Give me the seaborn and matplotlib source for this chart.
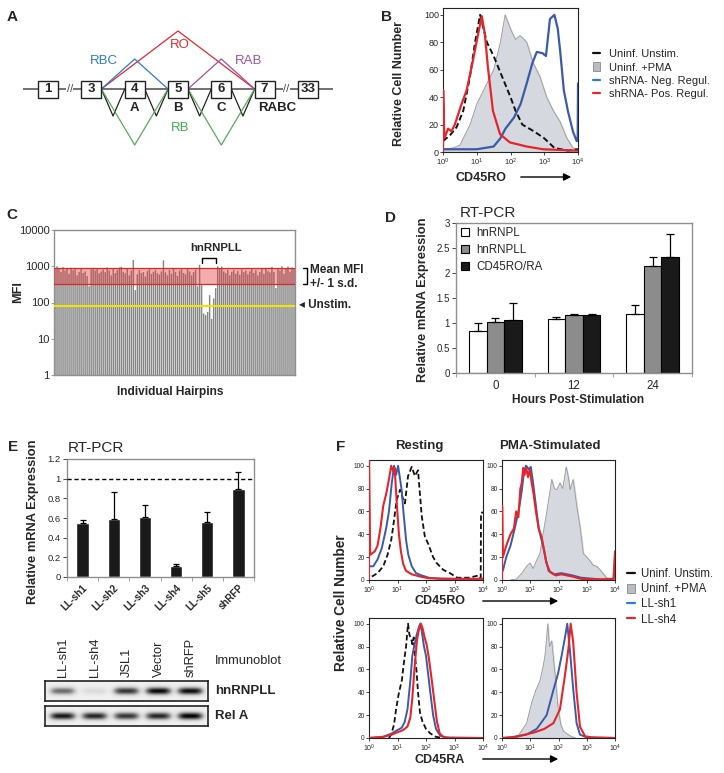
import numpy as np
import pandas as pd
import matplotlib
matplotlib.use("Agg")
import matplotlib.pyplot as plt
import seaborn as sns
from matplotlib.lines import Line2D
from matplotlib.patches import Patch, Rectangle
from matplotlib.ticker import FuncFormatter

W, H = 724, 773

# ---------------- data ----------------
# A: exon map of CD45 and the splice isoforms
exon_names = ["1", "3", "4", "5", "6", "7", "33"]
a_letters = ["A", "B", "C", "RABC"]
a_letter_pos = [2, 3, 4, 5.28]
a_junc_from = [1, 1, 3, 1, 2, 3, 4, 1, 3]
a_junc_to = [5, 3, 5, 2, 3, 4, 5, 3, 5]
a_junc_height = [58, 30, 30, -27, -27, -27, -27, -56, -56]
a_junc_color = ["#e8262d", "#2b7cc4", "#9b51a0", "#222222", "#222222",
                "#222222", "#222222", "#5aa85c", "#5aa85c"]
a_iso = ["RO", "RBC", "RAB", "RB"]
a_iso_x = [3.05, 1.29, 4.64, 3.05]
a_iso_y = [44, 28, 28, -39]
a_iso_color = ["#e8262d", "#2b7cc4", "#9b51a0", "#3fae49"]

# B: CD45RO histograms (x = log10 fluorescence, y = % of max)
b_pma_x = [0.0, 0.3, 0.5, 0.8, 1.0, 1.3, 1.5, 1.7, 1.84, 2.03, 2.15, 2.28, 2.48, 2.67, 2.87, 3.07, 3.27, 3.47, 3.67, 3.85, 4.0]
b_pma_y = [2, 3, 5, 20, 35, 50, 60, 80, 100, 88, 82, 85, 80, 65, 55, 40, 30, 22, 10, 3, 2]
b_unstim_x = [0.0, 0.2, 0.4, 0.6, 0.8, 0.95, 1.1, 1.3, 1.5, 1.75, 2.0, 2.15, 2.35, 2.7, 3.0, 3.3, 3.7, 4.0]
b_unstim_y = [8, 12, 18, 30, 55, 80, 100, 80, 70, 55, 40, 30, 20, 15, 10, 3, 1, 2]
b_neg_x = [0.0, 0.5, 1.0, 1.5, 1.7, 1.85, 2.1, 2.3, 2.48, 2.65, 2.78, 2.95, 3.05, 3.17, 3.3, 3.4, 3.47, 3.58, 3.7, 3.85, 3.96, 3.99, 4.0]
b_neg_y = [2, 2, 2, 4, 10, 17, 25, 35, 50, 65, 73, 72, 70, 97, 100, 90, 74, 45, 30, 15, 8, 8, 50]
b_pos_x = [0.0, 0.005, 0.04, 0.15, 0.25, 0.35, 0.55, 0.7, 0.89, 1.04, 1.15, 1.24, 1.33, 1.48, 1.69, 1.98, 2.48, 2.96, 3.95, 4.0]
b_pos_y = [0, 45, 10, 17, 15, 20, 35, 45, 67, 86, 99, 86, 62, 30, 13, 7, 4, 2, 1, 1]

# C: MFI of individual hairpins
c_mfi = [900, 1000, 850, 700, 950, 760, 880, 620, 910, 780, 830, 560, 700, 880, 650, 720, 540, 280, 820, 900,
         760, 880, 640, 720, 810, 690, 930, 770, 560, 880, 650, 780, 920, 970, 700, 640, 850, 560, 760, 1500,
         220, 600, 780, 650, 690, 520, 740, 860, 610, 700, 780, 640, 590, 720, 1450, 680, 560, 790, 620, 860,
         700, 540, 760, 830, 650, 600, 880, 720, 560, 690, 800, 280, 1100, 300, 50, 45, 55, 160, 35, 130,
         250, 1000, 850, 980, 720, 640, 800, 560, 700, 780, 620, 740, 580, 820, 690, 760, 600, 720, 880, 650,
         780, 560, 700, 840, 620, 900, 730, 680, 960, 700, 250, 840, 760, 1000, 620, 880, 980, 700, 920, 860]
c_band_lo, c_band_hi = 316, 875
c_unstim = 82

# D: RT-PCR time course
d_hours = ["0", "12", "24"]
d_genes = ["hnRNPL", "hnRNPLL", "CD45RO/RA"]
d_hnrnpl = [0.85, 1.08, 1.19]
d_hnrnpll = [1.02, 1.16, 2.15]
d_cd45 = [1.07, 1.16, 2.33]
d_hnrnpl_err = [0.15, 0.05, 0.18]
d_hnrnpll_err = [0.08, 0.02, 0.18]
d_cd45_err = [0.33, 0.02, 0.45]
d_colors = ["white", "#8c8c8c", "#1a1a1a"]

# E: knockdown efficiency
e_hairpins = ["LL-sh1", "LL-sh2", "LL-sh3", "LL-sh4", "LL-sh5", "shRFP"]
e_expr = [0.55, 0.59, 0.61, 0.11, 0.56, 0.89]
e_err = [0.03, 0.27, 0.12, 0.02, 0.10, 0.18]

# E: immunoblot band intensities
blot_lanes = ["LL-sh1", "LL-sh4", "JSL1", "Vector", "shRFP"]
blot_hnrnpll = [0.55, 0.12, 0.75, 0.9, 0.88]
blot_rela = [0.85, 0.8, 0.75, 0.8, 0.92]

# F: CD45RO / CD45RA histograms, resting and PMA-stimulated
f_ro_rest_unstim_x = [0.1, 0.3, 0.5, 0.65, 0.78, 0.85, 0.97, 1.09, 1.18, 1.26, 1.37, 1.5, 1.61, 1.72, 1.85, 1.96, 2.07, 2.25, 2.37, 2.6, 2.84, 3.1, 3.5, 3.85, 3.92, 3.93, 4.0]
f_ro_rest_unstim_y = [3, 6, 12, 22, 35, 47, 70, 79, 72, 67, 91, 99, 91, 96, 56, 38, 32, 20, 15, 9, 6, 2, 2, 4, 2, 59, 59]
f_ro_rest_sh1_x = [0.0, 0.05, 0.15, 0.3, 0.45, 0.6, 0.7, 0.8, 0.88, 0.95, 1.02, 1.08, 1.15, 1.2, 1.3, 1.38, 1.5, 1.65, 1.85, 2.1, 2.5, 3.0, 4.0]
f_ro_rest_sh1_y = [12, 12, 12, 18, 28, 45, 60, 85, 100, 92, 100, 90, 78, 62, 35, 22, 12, 6, 4, 2, 1, 1, 1]
f_ro_rest_sh4_x = [0.0, 0.0, 0.04, 0.2, 0.3, 0.4, 0.5, 0.6, 0.7, 0.78, 0.85, 0.9, 0.98, 1.05, 1.12, 1.2, 1.3, 1.5, 1.8, 2.1, 3.0, 4.0]
f_ro_rest_sh4_y = [0, 110, 22, 25, 30, 45, 65, 75, 88, 100, 95, 98, 65, 40, 25, 14, 8, 5, 3, 1.5, 1, 1]

f_ro_pma_fill_x = [0.3, 0.52, 0.7, 0.87, 0.99, 1.1, 1.2, 1.34, 1.45, 1.58, 1.68, 1.76, 1.85, 1.94, 2.05, 2.15, 2.27, 2.35, 2.41, 2.52, 2.65, 2.76, 2.88, 3.0, 3.11, 3.22, 3.35, 3.47, 3.6, 3.7, 3.88, 4.0]
f_ro_pma_fill_y = [0, 1, 6, 12, 15, 10, 16, 23, 40, 59, 75, 88, 80, 79, 85, 80, 99, 90, 79, 88, 64, 47, 23, 20, 17, 13, 12, 9, 5, 2, 1, 0]
f_ro_pma_sh1_x = [0.03, 0.15, 0.3, 0.45, 0.6, 0.7, 0.78, 0.85, 0.95, 1.02, 1.1, 1.2, 1.3, 1.45, 1.55, 1.65, 1.85, 2.1, 2.3, 2.5, 2.8, 3.5, 3.95, 4.0]
f_ro_pma_sh1_y = [8, 20, 30, 45, 62, 78, 95, 100, 97, 99, 85, 65, 45, 30, 18, 8, 5, 6, 5, 4, 2, 0.5, 1, 20]
f_ro_pma_sh4_x = [0.0, 0.005, 0.03, 0.15, 0.3, 0.42, 0.5, 0.58, 0.65, 0.7, 0.75, 0.8, 0.86, 0.92, 0.98, 1.05, 1.12, 1.2, 1.3, 1.4, 1.5, 1.57, 1.7, 1.9, 2.1, 2.3, 2.5, 2.8, 3.5, 3.95, 4.0]
f_ro_pma_sh4_y = [0, 65, 20, 30, 40, 45, 60, 55, 80, 85, 98, 92, 98, 90, 97, 85, 75, 60, 45, 38, 25, 15, 7, 4, 5, 4, 3, 1, 0.5, 1, 25]

f_ra_rest_unstim_x = [0.7, 0.78, 0.88, 0.95, 1.03, 1.1, 1.15, 1.22, 1.3, 1.37, 1.42, 1.47, 1.52, 1.57, 1.62, 1.67, 1.72, 1.79, 1.88, 2.0, 2.15, 2.35, 2.6]
f_ra_rest_unstim_y = [0, 3, 12, 25, 37, 45, 50, 65, 80, 100, 90, 88, 82, 88, 70, 58, 40, 22, 14, 8, 4, 1, 0]
f_ra_rest_sh1_x = [0.0, 0.5, 0.8, 1.0, 1.15, 1.25, 1.35, 1.45, 1.52, 1.6, 1.67, 1.75, 1.8, 1.86, 1.93, 2.0, 2.08, 2.15, 2.25, 2.35, 2.5, 2.7, 4.0]
f_ra_rest_sh1_y = [0, 1, 4, 7, 9, 14, 25, 50, 72, 82, 90, 97, 100, 92, 80, 72, 55, 40, 20, 8, 2, 0.5, 0]
f_ra_rest_sh4_x = [0.0, 0.5, 0.8, 1.0, 1.2, 1.35, 1.45, 1.52, 1.6, 1.68, 1.75, 1.82, 1.88, 1.95, 2.02, 2.1, 2.18, 2.28, 2.38, 2.48, 2.6, 2.8, 4.0]
f_ra_rest_sh4_y = [0, 1, 3, 5, 7, 10, 18, 35, 62, 85, 95, 100, 96, 88, 82, 70, 55, 35, 15, 4, 1, 0, 0]

f_ra_pma_fill_x = [0.52, 0.87, 1.05, 1.2, 1.34, 1.45, 1.52, 1.58, 1.62, 1.68, 1.76, 1.88, 1.99, 2.08, 2.17, 2.4, 2.6]
f_ra_pma_fill_y = [0, 13, 31, 42, 50, 62, 72, 88, 100, 80, 85, 55, 25, 12, 6, 2, 0]
f_ra_pma_sh1_x = [0.0, 0.28, 0.87, 1.23, 1.58, 1.82, 1.99, 2.11, 2.23, 2.31, 2.4, 2.52, 2.64, 2.76, 3.0, 4.0]
f_ra_pma_sh1_y = [0, 0.5, 3, 8, 20, 42, 57, 72, 88, 100, 78, 43, 13, 3, 0.5, 0]
f_ra_pma_sh4_x = [0.0, 0.5, 1.16, 1.5, 1.82, 2.05, 2.23, 2.35, 2.43, 2.52, 2.64, 2.76, 2.94, 3.2, 4.0]
f_ra_pma_sh4_y = [0, 1, 5, 8, 13, 25, 55, 78, 100, 84, 40, 10, 1.5, 0.5, 0]

BLUE = "#3b5ba8"
RED = "#e3262b"
BLACK = "#111111"
GRAY_FILL = "#d5d8de"
GRAY_EDGE = "#9a9a9a"
FRAME = "#8f8f8f"

# ---------------- style ----------------
sns.set_style("ticks")
plt.rcParams["font.family"] = ["Liberation Sans", "DejaVu Sans"]
plt.rcParams["mathtext.default"] = "regular"
plt.rcParams["axes.linewidth"] = 0.8

fig = plt.figure(figsize=(W / 100, H / 100), dpi=100)


def px_axes(left, top, right, bottom):
    return fig.add_axes([left / W, 1 - bottom / H, (right - left) / W, (bottom - top) / H])


def gfmt(v, _):
    return f"{v:g}"


# ---------------- A ----------------
axA = px_axes(23, 25, 333, 150)
axA.set_xlim(-0.58, 6.58)
axA.set_ylim(-61, 64)
axA.axis("off")
axA.axhline(0, color="#666666", lw=1.3, zorder=1)
half_w = 0.23
for a, b, h, c in zip(a_junc_from, a_junc_to, a_junc_height, a_junc_color):
    axA.plot([a + half_w, (a + b) / 2, b - half_w], [0, h, 0], color=c, lw=0.9, zorder=2)
for p, name in enumerate(exon_names):
    axA.add_patch(Rectangle((p - half_w, -8.5), 2 * half_w, 17, fc="white", ec="#222222", lw=1.0, zorder=3))
    axA.text(p, 0, name, ha="center", va="center", fontsize=9.5, fontweight="bold",
             color="#222222", zorder=4)
for brk in [0.5, 5.5]:
    axA.text(brk, 0, "//", ha="center", va="center", fontsize=8, color="#444444",
             bbox=dict(fc="white", ec="none", pad=0.3), zorder=3)
for s, x in zip(a_letters, a_letter_pos):
    axA.text(x, -19, s, ha="center", va="center", fontsize=9.5, fontweight="bold", color="#222222")
for s, x, y, c in zip(a_iso, a_iso_x, a_iso_y, a_iso_color):
    axA.text(x, y, s, ha="center", va="center", fontsize=9.5, color=c)


# ---------------- FACS helpers ----------------
def facs_axes(ax, yfs, xfs):
    ax.set_xlim(0, 4)
    ax.set_ylim(0, 105)
    ax.set_xticks(range(5))
    ax.set_xticklabels([rf"$10^{{{k}}}$" for k in range(5)])
    ax.set_yticks(range(0, 101, 20))
    ax.tick_params(axis="y", labelsize=yfs, length=2, width=0.6, pad=1)
    ax.tick_params(axis="x", labelsize=xfs, length=2, width=0.6, pad=1.5)
    for s in ax.spines.values():
        s.set_linewidth(0.8)
        s.set_color("#222222")
    ax.set_xlabel("")
    ax.set_ylabel("")


def fill_hist(ax, xs, ys):
    ax.fill_between(xs, ys, color=GRAY_FILL, zorder=1)
    sns.lineplot(x=xs, y=ys, ax=ax, color=GRAY_EDGE, lw=0.6, estimator=None, sort=False, zorder=1)


def line_hist(ax, xs, ys, color, dashed=False, lw=1.5):
    kw = dict(linestyle=(0, (3, 1.6))) if dashed else {}
    sns.lineplot(x=xs, y=ys, ax=ax, color=color, lw=lw, estimator=None, sort=False, zorder=3, **kw)


# ---------------- B ----------------
axB = px_axes(443, 8, 578, 152)
fill_hist(axB, b_pma_x, b_pma_y)
line_hist(axB, b_unstim_x, b_unstim_y, BLACK, dashed=True, lw=1.4)
line_hist(axB, b_neg_x, b_neg_y, BLUE, lw=1.6)
line_hist(axB, b_pos_x, b_pos_y, RED, lw=1.6)
facs_axes(axB, 6.5, 5.5)

fig.legend(handles=[Line2D([], [], color=BLACK, lw=1.6),
                    Patch(fc="#b9bcc2", ec="#888888", lw=0.6),
                    Line2D([], [], color="#2a7fd0", lw=1.6),
                    Line2D([], [], color=RED, lw=1.6)],
           labels=["Uninf. Unstim.", "Uninf. +PMA", "shRNA- Neg. Regul.", "shRNA- Pos. Regul."],
           loc="upper left", bbox_to_anchor=(593 / W, 1 - 49 / H), frameon=False, fontsize=8,
           handlelength=0.65, handleheight=0.8, handletextpad=0.8, labelspacing=0.3,
           borderpad=0, borderaxespad=0)

# ---------------- C ----------------
axC = px_axes(54, 230, 295, 375)
axC.set_yscale("log")
sns.barplot(x=np.arange(len(c_mfi)), y=c_mfi, color="#858585", saturation=1, width=0.72,
            linewidth=0, ax=axC)
for bar in axC.patches:
    bar.set_snap(False)
axC.set_xlim(-0.5, len(c_mfi) - 0.5)
axC.set_ylim(1, 10000)
axC.axhspan(c_band_lo, c_band_hi, fc="#e8393a", alpha=0.42, lw=0, zorder=3)
axC.axhline(c_band_lo, color="#d42a2a", lw=0.9, zorder=3)
axC.axhline(c_band_hi, color="#d42a2a", lw=0.9, zorder=3)
axC.axhline(c_unstim, color="#f2e400", lw=1.5, zorder=4)
axC.set_yticks([1, 10, 100, 1000, 10000])
axC.set_yticklabels(["1", "10", "100", "1000", "10000"])
axC.yaxis.set_minor_locator(matplotlib.ticker.NullLocator())
axC.set_xticks([])
axC.tick_params(axis="y", labelsize=8, length=2, width=0.6, color=FRAME, pad=1)
for s in axC.spines.values():
    s.set_color(FRAME)
    s.set_linewidth(1.0)
axC.set_xlabel("")
axC.set_ylabel("")

# ---------------- D ----------------
axD = px_axes(456, 223, 692, 373)
df_d = pd.DataFrame({
    "hours": d_hours * 3,
    "gene": [g for g in d_genes for _ in d_hours],
    "expr": d_hnrnpl + d_hnrnpll + d_cd45,
})
sns.barplot(data=df_d, x="hours", y="expr", hue="gene", order=d_hours, hue_order=d_genes,
            palette=d_colors, saturation=1, edgecolor="black", linewidth=0.8, width=0.67,
            errorbar=None, legend=False, ax=axD)
for cont, err in zip(axD.containers, [d_hnrnpl_err, d_hnrnpll_err, d_cd45_err]):
    xs = [b.get_x() + b.get_width() / 2 for b in cont]
    ys = [b.get_height() for b in cont]
    axD.errorbar(xs, ys, yerr=[np.zeros(len(err)), err], fmt="none", ecolor="black",
                 elinewidth=0.9, capsize=3.2, capthick=0.9, zorder=5)
axD.set_xlim(-0.5, 2.5)
axD.set_ylim(0, 3)
axD.set_yticks(np.arange(0, 3.01, 0.5))
axD.yaxis.set_major_formatter(FuncFormatter(gfmt))
axD.set_xticks(range(3))
axD.set_xticklabels(d_hours)
axD.set_xticks([-0.5, 0.5, 1.5, 2.5], minor=True)
axD.tick_params(axis="x", which="major", length=0, labelsize=8.3, pad=5)
axD.tick_params(axis="x", which="minor", length=3, width=0.6, color=FRAME)
axD.tick_params(axis="y", labelsize=7, length=3, width=0.6, pad=1.5)
for s in axD.spines.values():
    s.set_color(FRAME)
    s.set_linewidth(1.0)
axD.set_xlabel("")
axD.set_ylabel("")
axD.legend(handles=[Patch(fc=c, ec="black", lw=0.8) for c in d_colors], labels=d_genes,
           loc="upper left", bbox_to_anchor=(0.02, 0.975), frameon=False, fontsize=8.3,
           handlelength=0.75, handleheight=0.75, handletextpad=0.6, labelspacing=0.45,
           borderpad=0, borderaxespad=0)

# ---------------- E ----------------
axE = px_axes(67, 459, 254, 577)
sns.barplot(x=e_hairpins, y=e_expr, color="#1a1a1a", saturation=1, width=0.4,
            errorbar=None, ax=axE)
bars = axE.containers[0]
axE.errorbar([b.get_x() + b.get_width() / 2 for b in bars], [b.get_height() for b in bars],
             yerr=[np.zeros(len(e_err)), e_err], fmt="none", ecolor="black",
             elinewidth=0.9, capsize=2.5, capthick=0.9, zorder=5)
axE.axhline(1.0, color="black", lw=1.0, linestyle=(0, (3, 2)), zorder=4)
axE.set_xlim(-0.5, len(e_hairpins) - 0.5)
axE.set_ylim(0, 1.2)
axE.set_yticks(np.arange(0, 1.21, 0.2))
axE.yaxis.set_major_formatter(FuncFormatter(gfmt))
axE.set_xticks(range(len(e_hairpins)))
axE.set_xticklabels(e_hairpins, rotation=45, ha="right", rotation_mode="anchor",
                    fontsize=7, fontweight="bold")
axE.set_xticks(np.arange(-0.5, len(e_hairpins)), minor=True)
axE.tick_params(axis="x", which="major", length=0, pad=4)
axE.tick_params(axis="x", which="minor", length=3, width=0.6, color=FRAME)
axE.tick_params(axis="y", labelsize=6.8, length=3, width=0.6, pad=1.5)
for s in axE.spines.values():
    s.set_color(FRAME)
    s.set_linewidth(1.0)
axE.set_xlabel("")
axE.set_ylabel("")


# immunoblot strips
def blot(ax, intens):
    xs = np.linspace(-0.55, len(intens) - 0.45, 400)
    ys = np.linspace(-1, 1, 40)
    img = np.full((len(ys), len(xs)), 0.13)
    for i, a in enumerate(intens):
        img += a * np.outer(np.exp(-(ys / 0.38) ** 2), np.exp(-((xs - i) / 0.4) ** 4))
    ax.imshow(img, cmap="Greys", vmin=0, vmax=1.05, aspect="auto",
              extent=[xs[0], xs[-1], -1, 1], interpolation="bilinear")
    ax.set_xticks([])
    ax.set_yticks([])
    for s in ax.spines.values():
        s.set_color("#222222")
        s.set_linewidth(1.2)


blot(px_axes(45, 681, 208, 701), blot_hnrnpll)
blot(px_axes(45, 706, 208, 726), blot_rela)

# ---------------- F ----------------
axF1 = px_axes(369, 460, 483, 580)
axF2 = px_axes(502, 460, 615, 580)
axF3 = px_axes(369, 618, 483, 738)
axF4 = px_axes(502, 618, 615, 738)

line_hist(axF1, f_ro_rest_unstim_x, f_ro_rest_unstim_y, BLACK, dashed=True, lw=1.3)
line_hist(axF1, f_ro_rest_sh1_x, f_ro_rest_sh1_y, BLUE, lw=1.4)
line_hist(axF1, f_ro_rest_sh4_x, f_ro_rest_sh4_y, RED, lw=1.5)

fill_hist(axF2, f_ro_pma_fill_x, f_ro_pma_fill_y)
line_hist(axF2, f_ro_pma_sh1_x, f_ro_pma_sh1_y, BLUE, lw=1.4)
line_hist(axF2, f_ro_pma_sh4_x, f_ro_pma_sh4_y, RED, lw=1.5)

line_hist(axF3, f_ra_rest_unstim_x, f_ra_rest_unstim_y, BLACK, dashed=True, lw=1.3)
line_hist(axF3, f_ra_rest_sh1_x, f_ra_rest_sh1_y, BLUE, lw=1.4)
line_hist(axF3, f_ra_rest_sh4_x, f_ra_rest_sh4_y, RED, lw=1.5)

fill_hist(axF4, f_ra_pma_fill_x, f_ra_pma_fill_y)
line_hist(axF4, f_ra_pma_sh1_x, f_ra_pma_sh1_y, BLUE, lw=1.4)
line_hist(axF4, f_ra_pma_sh4_x, f_ra_pma_sh4_y, RED, lw=1.5)

for ax in [axF1, axF2, axF3, axF4]:
    facs_axes(ax, 4.8, 5)

fig.legend(handles=[Line2D([], [], color=BLACK, lw=1.6),
                    Patch(fc="#b9bcc2", ec="#888888", lw=0.6),
                    Line2D([], [], color="#2a7fd0", lw=1.6),
                    Line2D([], [], color=RED, lw=1.6)],
           labels=["Uninf. Unstim.", "Uninf. +PMA", "LL-sh1", "LL-sh4"],
           loc="upper left", bbox_to_anchor=(627 / W, 1 - 568 / H), frameon=False, fontsize=8.3,
           handlelength=0.7, handleheight=0.8, handletextpad=0.55, labelspacing=0.28,
           borderpad=0, borderaxespad=0)

# ---------------- free text / arrows (pixel overlay) ----------------
ov = fig.add_axes([0, 0, 1, 1])
ov.set_xlim(0, W)
ov.set_ylim(H, 0)
ov.axis("off")
ov.patch.set_visible(False)

for s, x, y in [("A", 12, 17), ("B", 387, 17), ("C", 12, 215), ("D", 391, 218), ("E", 13, 447), ("F", 341, 447)]:
    ov.text(x, y, s, ha="center", va="center", fontsize=11, fontweight="bold")

bold = dict(fontweight="bold", ha="center", va="center")
# B labels
ov.text(399, 84, "Relative Cell Number", rotation=90, fontsize=9, **bold)
ov.text(481, 178, "CD45RO", fontsize=9, **bold)
ov.annotate("", xy=(574, 177), xytext=(518, 177),
            arrowprops=dict(arrowstyle="-|>", color="black", lw=1.0, mutation_scale=11))
# C labels
ov.text(18, 292, "MFI", rotation=90, fontsize=9.2, **bold)
ov.text(170, 392, "Individual Hairpins", fontsize=8.6, **bold)
ov.text(216, 248, "hnRNPLL", fontsize=8.2, **bold)
ov.plot([202, 202, 216, 216], [263, 258, 258, 263], color="black", lw=1.0)
ov.plot([303, 307, 307, 303], [268, 268, 284, 284], color="black", lw=1.0)
ov.text(310, 270, "Mean MFI", fontsize=8.5, fontweight="bold", ha="left", va="center")
ov.text(310, 284, "+/- 1 s.d.", fontsize=8.5, fontweight="bold", ha="left", va="center")
ov.text(299, 305, "\u25c2 Unstim.", fontsize=8.5, fontweight="bold", ha="left", va="center")
# D labels
ov.text(460, 213, "RT-PCR", fontsize=11, ha="left", va="center")
ov.text(423, 300, "Relative mRNA Expression", rotation=90, fontsize=9.3, **bold)
ov.text(578, 400, "Hours Post-Stimulation", fontsize=8.6, **bold)
# E labels
ov.text(68, 448, "RT-PCR", fontsize=11, ha="left", va="center")
ov.text(33, 522, "Relative mRNA Expression", rotation=90, fontsize=9.3, **bold)
for i, lane in enumerate(blot_lanes):
    ov.text(45 + (i + 0.55) * 163 / 5.1, 677, lane, rotation=90, fontsize=9.3, ha="center", va="bottom")
ov.text(215, 661, "Immunoblot", fontsize=9.3, ha="left", va="center")
ov.text(215, 691, "hnRNPLL", fontsize=9.5, fontweight="bold", ha="left", va="center")
ov.text(215, 716, "Rel A", fontsize=9.5, fontweight="bold", ha="left", va="center")
# F labels
ov.text(419, 446, "Resting", fontsize=9.5, **bold)
ov.text(550, 446, "PMA-Stimulated", fontsize=9.5, **bold)
ov.text(341, 603, "Relative Cell Number", rotation=90, fontsize=9.8, **bold)
ov.text(440, 601, "CD45RO", fontsize=9, **bold)
ov.annotate("", xy=(561, 601), xytext=(480, 601),
            arrowprops=dict(arrowstyle="-|>", color="black", lw=1.0, mutation_scale=11))
ov.text(440, 760, "CD45RA", fontsize=9, **bold)
ov.annotate("", xy=(561, 759), xytext=(480, 759),
            arrowprops=dict(arrowstyle="-|>", color="black", lw=1.0, mutation_scale=11))

fig.savefig("out.png", dpi=100)
